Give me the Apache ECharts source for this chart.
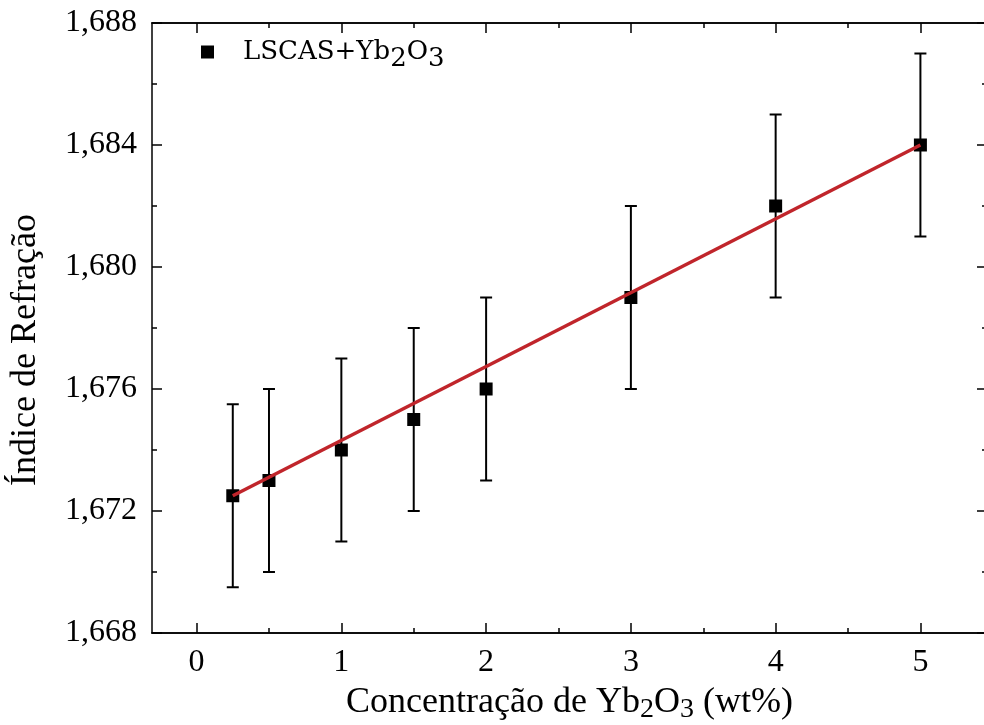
<!DOCTYPE html>
<html>
<head>
<meta charset="utf-8">
<script src="https://cdn.jsdelivr.net/npm/echarts@6/dist/echarts.min.js"></script>
<style>
  html, body { margin: 0; padding: 0; background: #fff; }
  #chart { width: 984px; height: 725px; }
</style>
</head>
<body>
<div id="chart"></div>
<script>
// concentração (wt%) e índice de refração medidos
var concentracao = [0.25, 0.5, 1, 1.5, 2, 3, 4, 5];
var indice = [1.6725, 1.673, 1.674, 1.675, 1.676, 1.679, 1.682, 1.684];
var erro = [0.003, 0.003, 0.003, 0.003, 0.003, 0.003, 0.003, 0.003];
// ajuste linear (extremos da reta)
var ajusteX = [0.25, 5];
var ajusteY = [1.6725, 1.6840];
var xTicks = [0, 1, 2, 3, 4, 5];
var xMinorTicks = [0.5, 1.5, 2.5, 3.5, 4.5];

var serif = "Liberation Serif";
var chart = echarts.init(document.getElementById("chart"));

var pontos = concentracao.map(function (x, i) { return [x, indice[i]]; });
var barras = concentracao.map(function (x, i) { return [x, indice[i] - erro[i], indice[i] + erro[i]]; });
var reta = ajusteX.map(function (x, i) { return [x, ajusteY[i]]; });

function xAxisBase(pos, labels, ticks, len) {
  return {
    type: "value", position: pos, min: -0.308, max: 5.46,
    axisLine: { show: true, onZero: false, lineStyle: { color: "#000", width: 1.5 } },
    axisTick: { show: true, inside: true, length: len, customValues: ticks, lineStyle: { color: "#000", width: 1.5 } },
    axisLabel: labels ? { show: true, customValues: xTicks, margin: 14, color: "#000", fontFamily: serif, fontSize: 32 } : { show: false },
    splitLine: { show: false }
  };
}

var xMain = xAxisBase("bottom", true, xTicks, 10);
xMain.name = "Concentração de Yb{s|2}O{s|3} (wt%)";
xMain.nameLocation = "middle";
xMain.nameGap = 48;
xMain.nameTextStyle = {
  color: "#000", fontFamily: serif, fontSize: 36,
  rich: { s: { fontFamily: serif, fontSize: 28, verticalAlign: "bottom", padding: [15, 0, 0, 0], color: "#000" } }
};

function yAxisBase(pos, labels) {
  return {
    type: "value", position: pos, min: 1.668, max: 1.688, interval: 0.004,
    axisLine: { show: labels, onZero: false, lineStyle: { color: "#000", width: 1.5 } },
    axisTick: { show: true, inside: true, length: 10, lineStyle: { color: "#000", width: 1.5 } },
    minorTick: { show: true, splitNumber: 2, length: 5, lineStyle: { color: "#000", width: 1.5 } },
    axisLabel: labels ? {
      show: true, margin: 15, color: "#000", fontFamily: serif, fontSize: 32,
      formatter: function (v) { return v.toFixed(3).replace(".", ","); }
    } : { show: false },
    splitLine: { show: false }
  };
}

var yMain = yAxisBase("left", true);
yMain.name = "Índice de Refração";
yMain.nameLocation = "middle";
yMain.nameGap = 108;
yMain.nameTextStyle = { color: "#000", fontFamily: serif, fontSize: 36, padding: [0, 44, 0, 0] };

var option = {
  backgroundColor: "#fff",
  animation: false,
  grid: { left: 152, right: -3, top: 23, bottom: 92, outerBoundsMode: "none", containLabel: false },
  legend: {
    left: 196, top: 34, icon: "rect", itemWidth: 13, itemHeight: 13, itemGap: 10,
    data: ["LSCAS+Yb2O3"],
    formatter: function () { return "LSCAS+Yb{s|2}O{s|3}"; },
    textStyle: {
      color: "#000", fontFamily: "DejaVu Serif", fontSize: 26, padding: [0, 0, 0, 24],
      rich: { s: { fontFamily: "DejaVu Serif", fontSize: 26, verticalAlign: "bottom", padding: [15, 0, 0, 0], color: "#000" } }
    }
  },
  xAxis: [
    xMain,
    xAxisBase("bottom", false, xMinorTicks, 5),
    xAxisBase("top", false, xTicks, 10),
    xAxisBase("top", false, xMinorTicks, 5)
  ],
  yAxis: [yMain, yAxisBase("right", false)],
  series: [
    {
      name: "erro", type: "custom", xAxisIndex: 0, yAxisIndex: 0, z: 2,
      data: barras,
      encode: { x: 0, y: [1, 2] },
      renderItem: function (params, api) {
        var x = api.value(0);
        var lo = api.coord([x, api.value(1)]);
        var hi = api.coord([x, api.value(2)]);
        var w = 6;
        var st = { stroke: "#000", lineWidth: 2 };
        return {
          type: "group",
          children: [
            { type: "line", shape: { x1: lo[0], y1: lo[1], x2: hi[0], y2: hi[1] }, style: st },
            { type: "line", shape: { x1: lo[0] - w, y1: lo[1], x2: lo[0] + w, y2: lo[1] }, style: st },
            { type: "line", shape: { x1: hi[0] - w, y1: hi[1], x2: hi[0] + w, y2: hi[1] }, style: st }
          ]
        };
      }
    },
    {
      name: "LSCAS+Yb2O3", type: "scatter", xAxisIndex: 0, yAxisIndex: 0, z: 3,
      symbol: "rect", symbolSize: 13, itemStyle: { color: "#000", opacity: 1 },
      data: pontos
    },
    {
      name: "ajuste", type: "line", xAxisIndex: 0, yAxisIndex: 0, z: 4,
      symbol: "none", lineStyle: { color: "#c0252b", width: 3.5 },
      data: reta
    }
  ]
};
chart.setOption(option);
</script>
</body>
</html>
